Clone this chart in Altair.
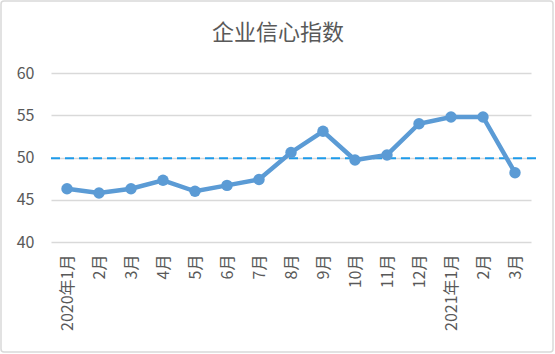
import altair as alt
import pandas as pd

months = ["2020年1月", "2月", "3月", "4月", "5月", "6月", "7月", "8月", "9月",
          "10月", "11月", "12月", "2021年1月", "2月 ", "3月 "]
values = [46.3, 45.8, 46.3, 47.3, 46.0, 46.7, 47.4, 50.6, 53.1,
          49.7, 50.3, 54.0, 54.8, 54.8, 48.2]
ref_value = [49.9]

df = pd.DataFrame({"month": months, "value": values})
ref = pd.DataFrame({"y": ref_value})

FONT = "Noto Sans CJK SC"
GREY = "#595959"

xscale = alt.Scale(type="point", padding=0.5)
xenc = alt.X("month:N", sort=months, title=None, scale=xscale,
             axis=alt.Axis(labelAngle=270, labelPadding=12, ticks=False, domain=False,
                           labelFont=FONT, labelFontSize=16, labelColor=GREY,
                           labelLimit=200))
yenc = alt.Y("value:Q", title=None,
             scale=alt.Scale(domain=[40, 60], nice=False, zero=False),
             axis=alt.Axis(values=[40, 45, 50, 55, 60], ticks=False, domain=False,
                           labelPadding=17, labelFont=FONT, labelFontSize=16,
                           labelColor=GREY, gridColor="#d9d9d9", gridWidth=1.5))

line = alt.Chart(df).mark_line(color="#5B9BD5", strokeWidth=4.5).encode(x=xenc, y=yenc)
pts = alt.Chart(df).mark_point(color="#5B9BD5", filled=True, size=130, opacity=1).encode(
    x=alt.X("month:N", sort=months, scale=xscale), y="value:Q")
rule = alt.Chart(ref).mark_rule(color="#1E9BEA", strokeWidth=2, strokeDash=[9, 5]).encode(
    y="y:Q", x=alt.value(0), x2=alt.value(486))
border = alt.Chart(ref).mark_rect(fill=None, stroke="#d9d9d9", strokeWidth=1.5,
                                  cornerRadius=3).encode(
    x=alt.value(-50), x2=alt.value(502), y=alt.value(-72), y2=alt.value(279))
title = alt.Chart(ref).mark_text(text="企业信心指数", font=FONT, fontSize=22,
                                 color=GREY, baseline="alphabetic", align="center").encode(
    x=alt.value(227), y=alt.value(-33))

chart = alt.layer(border, title, rule, line, pts).properties(
    width=480, height=169,
    autosize=alt.AutoSizeParams(type="none"),
    padding={"left": 51, "top": 73, "right": 24, "bottom": 112},
).configure_view(stroke=None)

chart.save("out.html", embed_options={"renderer": "svg", "actions": False})
